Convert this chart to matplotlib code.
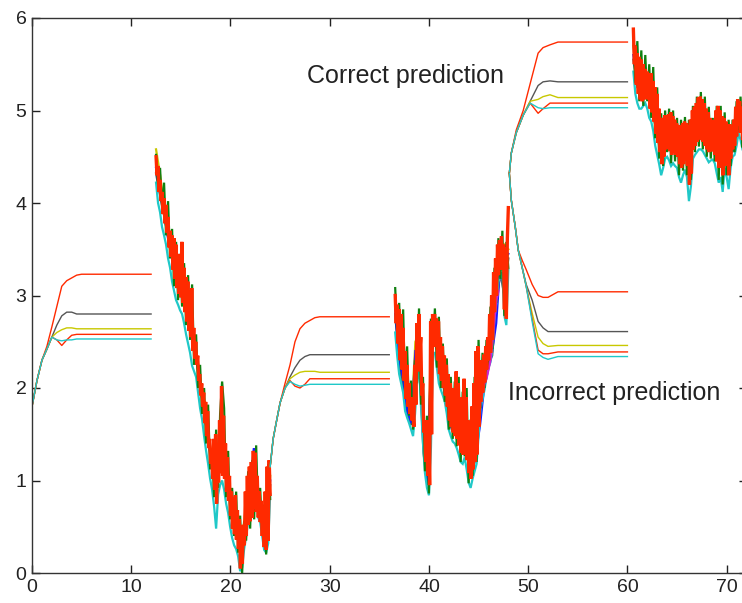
import numpy as np
import matplotlib
matplotlib.use("Agg")
import matplotlib.pyplot as plt

plt.rcParams['font.family'] = ['Liberation Sans', 'DejaVu Sans']

# colours used by the traces
RED = '#ff2a00'
GRAY = '#555555'
YELLOW = '#c8c800'
CYAN = '#20c8c8'
BLUE = '#1a1aff'
GREEN = '#108010'
MAGENTA = '#d020d0'

# ---- prediction segments (five curves each: red, gray, yellow, red, cyan)
pred1_x = [0, 0.5, 1.0, 1.5, 2.0, 2.5, 3.0, 3.5, 4.0, 4.5, 5.0, 12.0]
pred1_y = [
    [1.80, 2.08, 2.30, 2.45, 2.66, 2.88, 3.10, 3.16, 3.19, 3.22, 3.23, 3.23],
    [1.80, 2.08, 2.30, 2.42, 2.55, 2.68, 2.78, 2.82, 2.82, 2.80, 2.80, 2.80],
    [1.80, 2.08, 2.30, 2.42, 2.55, 2.60, 2.63, 2.65, 2.65, 2.64, 2.64, 2.64],
    [1.80, 2.08, 2.30, 2.42, 2.55, 2.52, 2.46, 2.52, 2.57, 2.58, 2.58, 2.58],
    [1.80, 2.08, 2.30, 2.42, 2.55, 2.52, 2.51, 2.52, 2.52, 2.53, 2.53, 2.53],
]

pred3_x = [24.0, 24.3, 24.6, 25.0, 25.5, 26.0, 26.5, 27.0, 27.5, 28.0, 28.5, 29.0, 36.0]
pred3_y = [
    [1.15, 1.45, 1.62, 1.84, 2.05, 2.25, 2.50, 2.64, 2.70, 2.73, 2.76, 2.77, 2.77],
    [1.15, 1.45, 1.62, 1.84, 2.00, 2.12, 2.22, 2.30, 2.34, 2.36, 2.36, 2.36, 2.36],
    [1.15, 1.45, 1.62, 1.84, 2.00, 2.10, 2.14, 2.17, 2.18, 2.18, 2.18, 2.17, 2.17],
    [1.15, 1.45, 1.62, 1.84, 2.00, 2.08, 2.02, 2.00, 2.04, 2.10, 2.10, 2.10, 2.10],
    [1.15, 1.45, 1.62, 1.84, 2.00, 2.07, 2.04, 2.02, 2.03, 2.04, 2.04, 2.04, 2.04],
]

correct_x = [48.1, 48.3, 48.8, 49.5, 50.2, 51.0, 51.5, 52.2, 53.0, 60.0]
correct_y = [
    [4.32, 4.54, 4.79, 5.00, 5.29, 5.62, 5.68, 5.71, 5.74, 5.74],
    [4.32, 4.54, 4.76, 4.95, 5.10, 5.27, 5.31, 5.32, 5.31, 5.31],
    [4.32, 4.54, 4.76, 4.95, 5.10, 5.12, 5.15, 5.17, 5.14, 5.14],
    [4.32, 4.54, 4.76, 4.95, 5.08, 4.97, 5.02, 5.08, 5.08, 5.08],
    [4.32, 4.54, 4.76, 4.95, 5.08, 5.03, 5.02, 5.03, 5.03, 5.03],
]

incorrect_x = [48.1, 48.3, 48.7, 49.0, 49.4, 49.8, 50.4, 51.0, 51.5, 52.0, 53.0, 60.0]
incorrect_y = [
    [4.32, 4.03, 3.74, 3.49, 3.38, 3.28, 3.12, 3.00, 2.98, 2.98, 3.04, 3.04],
    [4.32, 4.03, 3.74, 3.49, 3.30, 3.12, 2.95, 2.72, 2.65, 2.61, 2.61, 2.61],
    [4.32, 4.03, 3.74, 3.49, 3.30, 3.10, 2.81, 2.55, 2.48, 2.45, 2.46, 2.46],
    [4.32, 4.03, 3.74, 3.49, 3.30, 3.10, 2.75, 2.41, 2.37, 2.37, 2.39, 2.39],
    [4.32, 4.03, 3.74, 3.49, 3.30, 3.10, 2.72, 2.37, 2.33, 2.31, 2.34, 2.34],
]
pred_colors = [RED, GRAY, YELLOW, RED, CYAN]

# ---- observed (noisy) segments
seg2_range = (12.5, 24.0)
seg2_red = [4.50, 4.30, 4.40, 4.12, 4.25, 4.02, 4.12, 3.88, 4.05, 3.78, 3.98, 3.68,
            3.85, 3.52, 3.70, 3.42, 3.65, 3.28, 3.62, 3.18, 3.55, 3.08, 3.45, 3.02,
            3.40, 2.98, 3.58, 2.92, 3.30, 2.82, 3.20, 2.72, 3.15, 2.62, 3.05, 2.55,
            3.08, 2.40, 2.65, 2.32, 2.50, 2.25, 2.35, 2.08, 2.15, 1.92, 2.05, 1.80,
            1.95, 1.62, 1.85, 1.48, 1.75, 1.35, 1.45, 1.18, 1.28, 1.02, 1.45, 0.90,
            1.50, 0.75, 1.40, 0.98, 1.65, 1.08, 2.02, 1.05, 1.70, 1.02, 1.40, 0.88,
            1.25, 0.78, 1.05, 0.62, 0.88, 0.48, 0.82, 0.42, 0.84, 0.36, 0.68, 0.26,
            0.58, 0.05, 0.52, 0.10, 0.52, 0.30, 0.88, 0.40, 1.05, 0.52, 1.15, 0.56,
            1.20, 0.60, 1.32, 0.70, 1.30, 0.66, 1.05, 0.60, 0.88, 0.55, 0.78, 0.40,
            0.70, 0.28, 0.88, 0.25, 1.15, 0.35, 1.22, 0.85]
seg2_cyan = [4.22, 4.00, 3.90, 3.74, 3.65, 3.55, 3.40, 3.30, 3.15, 3.05, 2.95, 2.90,
             2.84, 2.80, 2.70, 2.58, 2.48, 2.38, 2.24, 2.18, 2.12, 1.95, 1.78, 1.66,
             1.48, 1.32, 1.18, 1.02, 0.90, 0.72, 0.48, 0.85, 0.95, 1.00, 0.90, 0.75,
             0.65, 0.50, 0.38, 0.30, 0.26, 0.18, 0.02, 0.06, 0.26, 0.40, 0.55, 0.70,
             0.80, 0.90, 0.85, 0.60, 0.55, 0.40, 0.25, 0.22, 0.32, 0.85]
seg2_green = [4.52, 4.20, 4.38, 3.95, 4.22, 3.65, 4.02, 3.40, 3.72, 3.10, 3.58, 2.95,
              3.45, 2.88, 3.35, 2.68, 3.22, 2.52, 3.12, 2.25, 2.58, 2.00, 2.25, 1.72,
              2.00, 1.40, 1.82, 1.12, 1.32, 0.82, 1.55, 0.92, 1.72, 2.07, 1.78, 0.82,
              1.32, 0.58, 0.92, 0.40, 0.88, 0.22, 0.62, 0.00, 0.56, 0.35, 1.10, 0.48,
              1.22, 0.58, 1.38, 0.62, 0.92, 0.42, 0.74, 0.20, 1.18, 0.80]
seg2_blue = [4.38, 4.10, 3.90, 3.60, 3.40, 3.25, 3.15, 3.00, 2.78, 2.55, 2.30, 2.00,
             1.70, 1.40, 1.10, 1.20, 1.45, 1.15, 0.85, 0.60, 0.55, 0.30, 0.60, 0.90,
             1.35, 0.85, 0.58, 0.50, 1.00]
seg2_gray = [4.32, 4.08, 3.86, 3.62, 3.40, 3.22, 3.12, 2.98, 2.75, 2.55, 2.28, 1.98,
             1.68, 1.38, 1.08, 1.15, 1.40, 1.15, 0.82, 0.58, 0.52, 0.28, 0.62, 0.88,
             1.00, 0.85, 0.55, 0.48, 0.95]
seg2_yellow = [4.58, 4.30, 3.95, 3.70, 3.45, 3.30, 3.20, 3.05, 2.85, 2.60, 2.35, 2.05,
               1.75, 1.45, 1.15, 1.25, 1.50, 1.20, 0.90, 0.62, 0.58, 0.32, 0.70, 1.10,
               1.10, 0.88, 0.60, 0.52, 1.05]

seg4_range = (36.6, 48.0)
seg4_red = [3.00, 2.70, 2.90, 2.48, 2.85, 2.30, 2.80, 2.20, 2.65, 2.08, 2.40, 1.88,
            2.25, 1.80, 2.05, 1.72, 1.90, 1.65, 1.75, 1.58, 2.25, 1.82, 2.70, 2.18,
            2.80, 2.38, 2.55, 1.92, 2.05, 1.52, 1.65, 1.20, 1.65, 1.05, 1.60, 0.95,
            2.72, 1.50, 2.80, 2.45, 2.80, 2.45, 2.75, 2.30, 2.72, 2.15, 2.55, 2.08,
            2.45, 2.00, 2.35, 1.92, 2.25, 1.80, 2.15, 1.65, 2.05, 1.58, 2.00, 1.52,
            2.00, 1.48, 2.18, 1.45, 2.05, 1.38, 1.85, 1.30, 1.90, 1.28, 2.10, 1.35,
            1.90, 1.22, 1.65, 1.08, 1.60, 1.02, 1.80, 1.12, 2.05, 1.20, 2.40, 1.28,
            2.45, 1.58, 2.22, 1.85, 2.30, 1.95, 2.36, 2.06, 2.45, 2.20, 2.55, 2.30,
            2.80, 2.38, 3.00, 2.52, 3.25, 2.82, 3.40, 3.00, 3.55, 3.22, 3.60, 3.28,
            3.64, 3.32, 3.55, 2.85, 3.52, 2.75, 3.62, 3.95]
seg4_cyan = [2.60, 2.35, 2.15, 2.05, 1.95, 1.75, 1.68, 1.62, 1.55, 1.48, 1.72, 2.05,
             2.28, 1.80, 1.40, 1.08, 0.92, 0.84, 1.35, 2.38, 2.38, 2.22, 2.05, 1.98,
             1.92, 1.85, 1.72, 1.55, 1.48, 1.42, 1.40, 1.35, 1.28, 1.20, 1.18, 1.25,
             1.12, 0.98, 0.92, 1.02, 1.10, 1.18, 1.48, 1.78, 1.88, 1.98, 2.12, 2.22,
             2.28, 2.42, 2.75, 2.92, 3.15, 3.20, 3.25, 2.78, 2.68, 3.28]
seg4_green = [3.08, 2.60, 2.92, 2.20, 2.85, 1.95, 2.45, 1.70, 2.08, 1.55, 2.30, 2.05,
              2.86, 1.82, 2.12, 1.10, 1.70, 0.86, 2.75, 2.42, 2.86, 2.22, 2.77, 2.00,
              2.48, 1.85, 2.32, 1.55, 2.12, 1.45, 2.07, 1.37, 2.12, 1.20, 1.96, 1.26,
              2.00, 0.97, 1.66, 1.05, 2.12, 1.20, 2.52, 1.78, 2.38, 2.00, 2.52, 2.22,
              2.88, 2.42, 3.30, 2.92, 3.62, 3.18, 3.70, 2.78, 3.58, 3.30]
seg4_blue = [2.85, 2.30, 2.10, 1.75, 1.62, 2.40, 2.40, 1.40, 1.00, 2.55, 2.55, 2.25,
             2.05, 1.80, 1.62, 1.60, 1.50, 1.45, 1.35, 1.20, 1.30, 1.60, 2.00, 2.20,
             2.40, 2.70, 3.35, 3.40, 3.45]
seg4_gray = [2.80, 2.25, 2.00, 1.70, 1.60, 2.30, 2.30, 1.30, 0.95, 2.50, 2.50, 2.20,
             2.00, 1.70, 1.55, 1.55, 1.40, 1.40, 1.25, 1.10, 1.25, 1.85, 2.05, 2.25,
             2.35, 2.90, 3.25, 3.00, 3.40]
seg4_yellow = [2.95, 2.40, 2.20, 1.85, 1.70, 2.50, 2.60, 1.50, 1.10, 2.65, 2.60, 2.30,
               2.10, 1.85, 1.70, 1.80, 1.60, 1.55, 1.40, 1.30, 1.55, 2.20, 2.30, 2.45,
               2.55, 3.00, 3.45, 3.55, 3.50]
seg4_magenta_range = (45.0, 47.0)
seg4_magenta = [1.60, 1.85, 1.95, 2.05, 2.10, 2.20, 2.30, 2.50, 2.75, 2.95, 3.05]

seg6_range = (60.6, 71.8)
seg6_red = [5.88, 5.50, 5.70, 5.28, 5.62, 5.18, 5.58, 5.12, 5.55, 5.10, 5.50, 5.12,
            5.45, 5.15, 5.42, 5.12, 5.40, 5.02, 5.40, 4.98, 5.32, 4.88, 5.25, 4.75,
            5.18, 4.65, 5.02, 4.55, 4.92, 4.42, 4.92, 4.50, 4.95, 4.58, 4.95, 4.60,
            4.96, 4.56, 4.98, 4.52, 4.94, 4.55, 4.90, 4.52, 4.86, 4.50, 4.84, 4.42,
            4.84, 4.38, 4.86, 4.42, 4.88, 4.46, 4.86, 4.40, 4.84, 4.20, 4.90, 4.32,
            5.00, 4.58, 5.04, 4.62, 5.08, 4.66, 5.14, 4.70, 5.15, 4.68, 5.12, 4.66,
            5.08, 4.62, 5.02, 4.58, 4.98, 4.55, 4.92, 4.56, 4.86, 4.56, 4.90, 4.52,
            5.00, 4.45, 5.05, 4.38, 5.00, 4.40, 4.94, 4.30, 4.92, 4.48, 4.88, 4.40,
            4.85, 4.30, 4.85, 4.48, 4.84, 4.58, 4.90, 4.62, 5.04, 4.72, 5.12, 4.84,
            5.10, 4.76, 5.04, 4.68, 5.00, 4.62]
seg6_cyan = [5.42, 5.18, 5.08, 5.02, 5.02, 5.05, 5.08, 5.02, 4.92, 4.88, 4.78, 4.62,
             4.52, 4.42, 4.30, 4.38, 4.48, 4.50, 4.46, 4.40, 4.43, 4.40, 4.38, 4.28,
             4.22, 4.30, 4.36, 4.28, 4.02, 4.18, 4.48, 4.52, 4.55, 4.58, 4.58, 4.56,
             4.52, 4.48, 4.44, 4.46, 4.47, 4.43, 4.32, 4.22, 4.28, 4.12, 4.38, 4.28,
             4.15, 4.38, 4.50, 4.52, 4.62, 4.76, 4.68, 4.58, 4.52]
seg6_green = [5.80, 5.30, 5.75, 5.10, 5.65, 5.05, 5.60, 5.10, 5.50, 4.92, 5.47, 4.70,
              5.25, 4.48, 4.97, 4.40, 5.00, 4.55, 5.02, 4.43, 5.00, 4.45, 4.92, 4.30,
              4.90, 4.35, 4.93, 4.30, 4.90, 4.25, 5.05, 4.55, 5.15, 4.61, 5.20, 4.58,
              5.15, 4.50, 5.04, 4.48, 4.92, 4.45, 5.05, 4.25, 5.05, 4.20, 4.98, 4.30,
              4.90, 4.40, 4.90, 4.55, 5.10, 4.79, 5.15, 4.60, 5.05]
seg6_blue = [5.60, 5.30, 5.25, 5.30, 5.15, 5.00, 4.80, 4.55, 4.70, 4.75, 4.65, 4.60,
             4.55, 4.60, 4.50, 4.75, 4.85, 4.85, 4.75, 4.65, 4.70, 4.65, 4.60, 4.55,
             4.65, 4.60, 4.80, 4.85, 4.75]
seg6_gray = [5.55, 5.25, 5.20, 5.25, 5.10, 4.95, 4.75, 4.50, 4.65, 4.70, 4.60, 4.55,
             4.45, 4.55, 4.45, 4.70, 4.80, 4.80, 4.70, 4.60, 4.65, 4.60, 4.55, 4.50,
             4.60, 4.55, 4.75, 4.80, 4.70]
seg6_yellow = [5.70, 5.45, 5.35, 5.40, 5.25, 5.10, 4.90, 4.65, 4.80, 4.85, 4.75, 4.70,
               4.65, 4.70, 4.60, 4.85, 4.95, 4.95, 4.85, 4.75, 4.80, 4.75, 4.70, 4.65,
               4.75, 4.70, 4.90, 4.95, 4.85]

x_ticks = [0, 10, 20, 30, 40, 50, 60, 70]
y_ticks = [0, 1, 2, 3, 4, 5, 6]

fig = plt.figure(figsize=(7.42, 6.03), dpi=100)
# axes run a little past the right edge so the right spine is cut off
ax = fig.add_axes([32 / 742, 30 / 603, 714.5 / 742, 555 / 603])


def trace(rng, values, color, lw=1.6):
    xs = np.linspace(rng[0], rng[1], len(values))
    ax.plot(xs, values, color=color, lw=lw, solid_joinstyle='miter')


for rng, series in [
    (seg2_range, [(seg2_gray, GRAY), (seg2_yellow, YELLOW), (seg2_blue, BLUE),
                  (seg2_cyan, CYAN), (seg2_green, GREEN)]),
    (seg4_range, [(seg4_gray, GRAY), (seg4_yellow, YELLOW), (seg4_blue, BLUE),
                  (seg4_cyan, CYAN), (seg4_green, GREEN)]),
    (seg6_range, [(seg6_gray, GRAY), (seg6_yellow, YELLOW), (seg6_blue, BLUE),
                  (seg6_cyan, CYAN), (seg6_green, GREEN)]),
]:
    for vals, col in series:
        trace(rng, vals, col)
trace(seg4_magenta_range, seg4_magenta, MAGENTA)
# red observed trace sits on top of the others
trace(seg2_range, seg2_red, RED, lw=2.4)
trace(seg4_range, seg4_red, RED, lw=2.4)
trace(seg6_range, seg6_red, RED, lw=2.4)

# prediction curves
for xs, ys in [(pred1_x, pred1_y), (pred3_x, pred3_y),
               (correct_x, correct_y), (incorrect_x, incorrect_y)]:
    for yv, col in zip(ys, pred_colors):
        ax.plot(xs, yv, color=col, lw=1.0)

ax.text(27.7, 5.37, "Correct prediction", fontsize=18, va='center', ha='left', color='#222222')
ax.text(48.0, 1.95, "Incorrect prediction", fontsize=18, va='center', ha='left', color='#222222')

ax.set_xlim(0, 72)
ax.set_ylim(0, 6)
ax.set_xticks(x_ticks)
ax.set_yticks(y_ticks)
ax.tick_params(direction='in', length=6, width=1, labelsize=14, top=True, right=True,
               colors='#222222', pad=4)
for s in ax.spines.values():
    s.set_color('#333333')
    s.set_linewidth(1.0)

plt.savefig("out.png", dpi=100)
